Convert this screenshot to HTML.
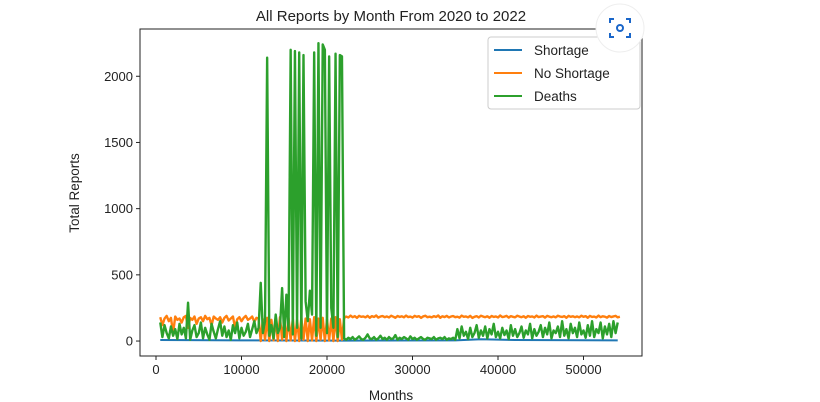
<!DOCTYPE html>
<html><head><meta charset="utf-8">
<style>
body{margin:0;background:#fff;}
svg{display:block;font-family:"Liberation Sans","DejaVu Sans",sans-serif;}
</style></head>
<body>
<svg id="chart" width="820" height="402" viewBox="0 0 820 402">
  <rect width="820" height="402" fill="#fff"/>
  <text x="391" y="21" text-anchor="middle" font-size="15" fill="#222">All Reports by Month From 2020 to 2022</text>
  <g id="plot"></g>
  <g id="axes"></g>
  <text x="391" y="400" text-anchor="middle" font-size="13.5" fill="#222">Months</text>
  <text transform="translate(79,193) rotate(-90)" text-anchor="middle" font-size="13.5" fill="#222">Total Reports</text>
  <g>
    <rect x="488" y="37" width="152" height="72" rx="3" fill="#fff" stroke="#ccc"/>
    <g>
      <line x1="494" y1="50" x2="522" y2="50" stroke="#1f77b4" stroke-width="2"/>
      <text x="534" y="55" font-size="13.5" fill="#222">Shortage</text>
    </g>
    <g>
      <line x1="494" y1="73" x2="522" y2="73" stroke="#ff7f0e" stroke-width="2"/>
      <text x="534" y="78" font-size="13.5" fill="#222">No Shortage</text>
    </g>
    <g>
      <line x1="494" y1="96" x2="522" y2="96" stroke="#2ca02c" stroke-width="2"/>
      <text x="534" y="101" font-size="13.5" fill="#222">Deaths</text>
    </g>
  </g>
  <g>
    <circle cx="620" cy="28" r="24" fill="#fff" stroke="#eee"/>
    <path d="M610 23v-4h4 M626 19h4v4 M630 33v4h-4 M614 37h-4v-4" fill="none" stroke="#1a66c9" stroke-width="2"/>
    <circle cx="620" cy="28" r="3" fill="none" stroke="#1a66c9" stroke-width="2"/>
  </g>
</svg>
<script>
const xTicks = [0, 10000, 20000, 30000, 40000, 50000];
const yTicks = [0, 500, 1000, 1500, 2000];
const monthStart = 500;
const monthStep = 250;
const deathValues = [140,30,120,60,20,110,40,90,15,130,50,100,20,290,10,80,120,30,60,140,20,100,50,10,130,70,20,90,150,40,110,30,80,10,120,60,140,20,100,40,70,130,30,90,150,60,
100,440,60,150,2140,40,120,20,200,60,100,400,30,350,80,2200,50,2190,100,2180,20,2160,300,150,380,200,2180,40,2250,100,2240,2200,60,2150,250,100,2170,30,2160,2150,20,
10,25,15,30,10,20,35,15,10,25,50,20,15,30,10,20,40,15,25,10,30,15,20,45,10,25,15,30,20,10,35,15,25,10,20,30,15,10,25,20,15,30,10,20,25,15,30,10,20,15,25,10,
90,20,110,40,70,15,100,30,60,120,25,80,40,110,20,90,50,130,30,70,20,100,45,80,15,120,40,90,30,60,110,25,80,50,130,20,90,40,70,120,30,100,50,140,20,80,60,110,30,150,40,90,20,130,60,100,30,140,50,80,25,120,40,150,30,90,60,140,20,110,50,130,30,150,60,140];
const noShortageValues = [180,120,170,190,150,175,60,185,160,170,140,180,190,100,175,160,185,130,170,180,150,190,165,175,120,185,170,160,180,140,175,190,155,170,185,100,165,180,150,175,190,160,170,185,145,175,
170,0,165,10,175,0,160,5,170,0,180,10,165,0,175,5,170,0,160,0,175,10,170,0,165,5,180,0,170,10,175,0,165,5,170,0,180,0,165,10,175,
185,178,192,180,188,175,190,183,186,179,190,176,188,182,193,177,185,189,180,186,178,191,184,176,189,182,187,179,192,181,185,177,190,183,188,175,186,191,180,184,
179,188,182,193,176,187,181,190,178,185,189,180,184,177,192,183,186,179,190,175,183,188,178,191,185,180,187,176,189,182,186,178,193,181,184,190,177,188,183,179,
191,185,180,187,176,189,183,186,178,192,181,185,188,177,190,184,180,186,179,191,185,182,188,176,190,183,187,180,
186,179,191,183,188,176,190,182,185,178,192,180,187,184,177,189,181,186,190,179,184];
const shortageMonths = [500, 10000, 22000, 35000, 38000, 42000, 54000];
const shortageValues = [8, 5, 3, 5, 14, 8, 5];

const L=140,R=642,T=29,B=356, xMin=-1870, xMax=56840, yMin=-113, yMax=2357;
const sx = v => L + (v - xMin) / (xMax - xMin) * (R - L);
const sy = v => B - (v - yMin) / (yMax - yMin) * (B - T);
const NS='http://www.w3.org/2000/svg';
const plot=document.getElementById('plot'), axes=document.getElementById('axes');

function series(xs, ys, color, name, w){
  const p=document.createElementNS(NS,'polyline');
  p.setAttribute('points', ys.map((v,i)=>sx(xs[i]).toFixed(2)+','+sy(v).toFixed(2)).join(' '));
  p.setAttribute('fill','none');p.setAttribute('stroke',color);
  p.setAttribute('stroke-width',w);p.setAttribute('stroke-linejoin','round');
  
  
  plot.appendChild(p);
}
const deathMonths = deathValues.map((_,i)=>monthStart+monthStep*i);
const noShortageMonths = noShortageValues.map((_,i)=>monthStart+monthStep*i);
series(shortageMonths, shortageValues, '#1f77b4', 'shortage-line', 2);
series(noShortageMonths, noShortageValues, '#ff7f0e', 'no-shortage-line', 2.4);
series(deathMonths, deathValues, '#2ca02c', 'deaths-line', 2.4);

const frame=document.createElementNS(NS,'rect');
frame.setAttribute('x',L);frame.setAttribute('y',T);frame.setAttribute('width',R-L);frame.setAttribute('height',B-T);
frame.setAttribute('fill','none');frame.setAttribute('stroke','#222');frame.setAttribute('stroke-width','1');


axes.appendChild(frame);

xTicks.forEach(t=>{
  const x=sx(t);
  const l=document.createElementNS(NS,'line');
  l.setAttribute('x1',x);l.setAttribute('x2',x);l.setAttribute('y1',B);l.setAttribute('y2',B+4);l.setAttribute('stroke','#222');
  
  
  axes.appendChild(l);
  const tx=document.createElementNS(NS,'text');
  tx.setAttribute('x',x);tx.setAttribute('y',B+18);tx.setAttribute('text-anchor','middle');tx.setAttribute('font-size','13');tx.setAttribute('fill','#222');
  tx.textContent=t;
  
  
  axes.appendChild(tx);
});
yTicks.forEach(t=>{
  const y=sy(t);
  const l=document.createElementNS(NS,'line');
  l.setAttribute('x1',L-4);l.setAttribute('x2',L);l.setAttribute('y1',y);l.setAttribute('y2',y);l.setAttribute('stroke','#222');
  
  
  axes.appendChild(l);
  const tx=document.createElementNS(NS,'text');
  tx.setAttribute('x',L-7);tx.setAttribute('y',y+4.5);tx.setAttribute('text-anchor','end');tx.setAttribute('font-size','13');tx.setAttribute('fill','#222');
  tx.textContent=t;
  
  
  axes.appendChild(tx);
});
</script>
</body></html>
